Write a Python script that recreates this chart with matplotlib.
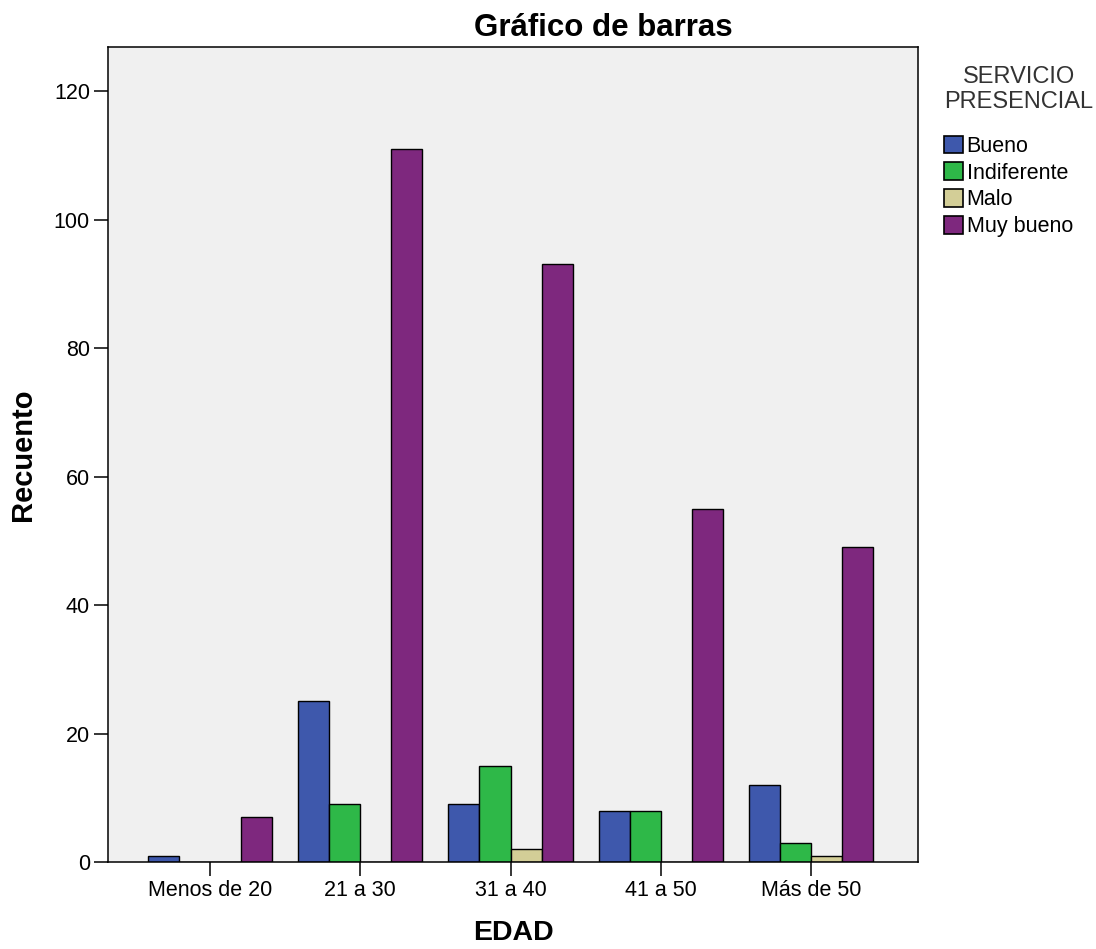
import numpy as np
import matplotlib.pyplot as plt
from matplotlib.patches import Patch

plt.rcParams['font.family'] = ['Liberation Sans', 'DejaVu Sans']

# data
edad = ["Menos de 20", "21 a 30", "31 a 40", "41 a 50", "Más de 50"]
servicio = ["Bueno", "Indiferente", "Malo", "Muy bueno"]
bueno = [1, 25, 9, 8, 12]
indiferente = [0, 9, 15, 8, 3]
malo = [0, 0, 2, 0, 1]
muy_bueno = [7, 111, 93, 55, 49]
colores = ["#3e58ac", "#2eb848", "#d3ce97", "#7e287e"]

series = [bueno, indiferente, malo, muy_bueno]

fig = plt.figure(figsize=(10.96, 9.49), dpi=100)
ax = fig.add_axes([108 / 1096, 87 / 949, 810 / 1096, 815 / 949])
ax.set_facecolor("#f0f0f0")

x = np.arange(len(edad))
w = 0.207
for i, vals in enumerate(series):
    ax.bar(x + (i - 1.5) * w, vals, width=w, color=colores[i],
           edgecolor="black", linewidth=1.0, zorder=2)

ax.set_xlim(-0.679, 4.712)
ax.set_ylim(0, 126.85)
ax.set_yticks([0, 20, 40, 60, 80, 100, 120])
ax.set_xticks(x)
ax.set_xticklabels(edad)
ax.tick_params(axis="both", labelsize=15.5, length=10, width=1.1,
               direction="out", pad=3, colors="black")
for s in ax.spines.values():
    s.set_linewidth(1.1)

ax.set_xlabel("EDAD", fontsize=20.5, fontweight="bold", labelpad=14)
ax.set_ylabel("Recuento", fontsize=21, fontweight="bold", labelpad=12)

fig.text(603 / 1096, 1 - 28 / 949, "Gráfico de barras", fontsize=22.5,
         fontweight="bold", ha="center", va="center")

handles = [Patch(facecolor=c, edgecolor="black", linewidth=1.2) for c in colores]
leg = fig.legend(handles, servicio, loc="upper left",
                 bbox_to_anchor=(944 / 1096, 1 - 66 / 949),
                 frameon=False, fontsize=15.5, title="SERVICIO\nPRESENCIAL",
                 title_fontsize=17, handlelength=0.9, handleheight=0.9,
                 handletextpad=0.15, labelspacing=0.25, borderaxespad=0,
                 borderpad=0)
leg.get_title().set_color("#333333")
leg.get_title().set_multialignment("center")
leg._legend_box.align = "left"
leg._legend_box.sep = 16

fig.savefig("out.png", dpi=100)
